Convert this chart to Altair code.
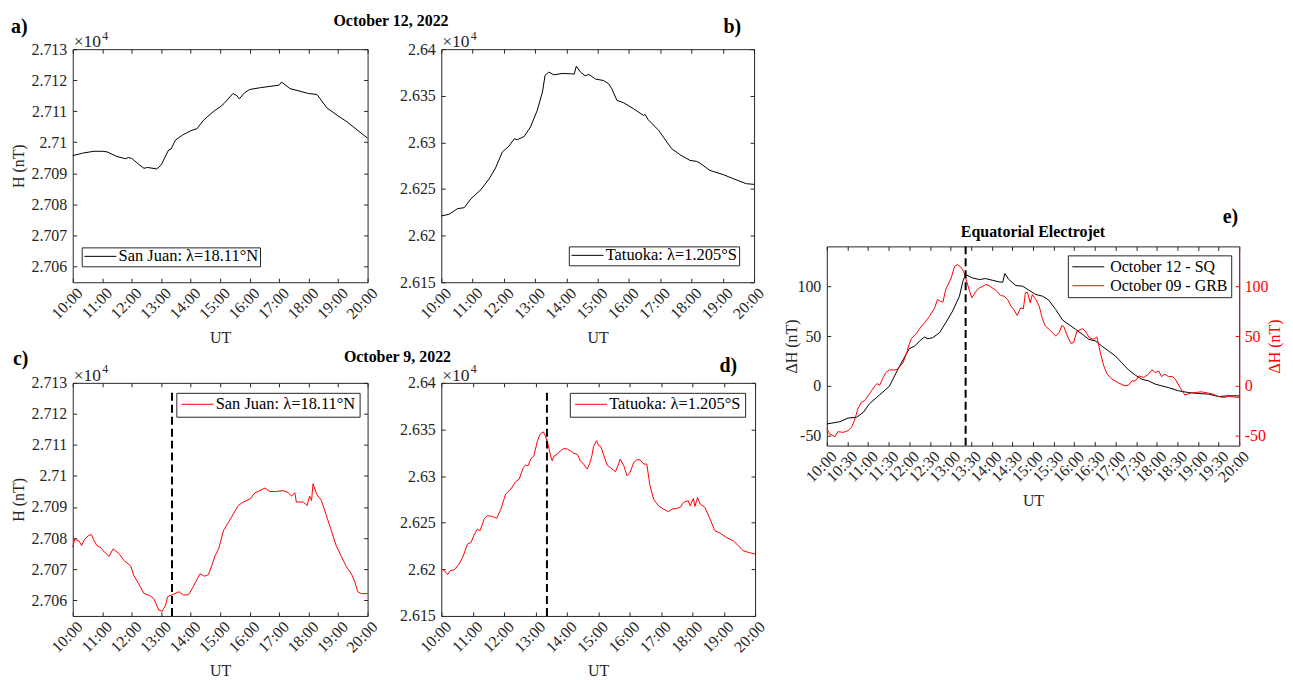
import altair as alt
import pandas as pd

FONT = "Liberation Serif"
AX = "#262626"
RED = "#FF0000"
BLACK = "#000000"
TICK = 4

# ---------------- data ----------------
# a) San Juan, October 12
a_time = ["10:00","10:20","10:43","11:00","11:10","11:30","11:48","11:53","12:00","12:12","12:25","12:32",
          "12:51","13:00","13:15","13:20","13:29","13:43","14:00","14:13","14:26","14:47","15:00","15:08",
          "15:26","15:34","15:39","15:50","16:00","16:22","17:00","17:05","17:22","18:00","18:17","18:37",
          "19:00","19:18","20:00"]
a_H = [27095.7,27096.5,27097.1,27097.1,27096.9,27095.4,27094.7,27095.1,27094.8,27093.2,27091.6,27091.9,
       27091.4,27092.7,27097.5,27097.8,27100.7,27102.3,27103.7,27104.4,27107.1,27110.0,27111.4,27112.5,
       27115.7,27115.0,27114.0,27116.0,27117.0,27117.6,27118.4,27119.4,27117.3,27115.7,27115.4,27111.1,
       27108.5,27106.6,27101.3]

# b) Tatuoka, October 12
b_time = ["10:00","10:15","10:31","10:44","10:57","11:16","11:32","11:44","11:57","12:10","12:20","12:26",
          "12:39","12:51","13:04","13:14","13:19","13:26","13:36","13:52","14:08","14:15","14:19","14:27",
          "14:36","14:43","14:56","15:11","15:21","15:27","15:37","15:50","16:09","16:28","16:31","16:37",
          "16:57","17:06","17:22","17:38","17:57","18:10","18:16","18:35","19:01","19:20","19:45","20:00"]
b_H = [26221.1,26222.9,26228.9,26230.0,26239.6,26249.3,26261.1,26272.5,26289.6,26296.1,26303.9,26302.9,
       26306.4,26316.4,26334.3,26353.9,26371.8,26375.4,26372.5,26373.9,26373.6,26373.2,26381.8,26375.4,
       26371.4,26372.9,26367.9,26366.4,26362.9,26357.5,26345.0,26342.5,26336.0,26328.9,26330.0,26324.3,
       26312.9,26305.7,26293.2,26286.8,26280.7,26279.6,26277.9,26270.0,26265.4,26261.1,26255.7,26255.0]

# c) San Juan, October 9
c_time = ["10:00","10:04","10:13","10:18","10:24","10:33","10:38","10:43","10:49","10:57","11:04","11:14",
          "11:22","11:34","11:44","11:58","12:04","12:14","12:25","12:35","12:45","12:55","13:02","13:09",
          "13:13","13:25","13:36","13:46","13:56","14:03","14:13","14:19","14:28","14:36","14:43","14:50",
          "14:57","15:07","15:17","15:27","15:37","15:47","16:01","16:11","16:21","16:31","16:41","16:55",
          "17:08","17:19","17:25","17:32","17:35","17:49","17:57","18:02","18:06","18:09","18:16","18:26",
          "18:36","18:46","18:56","19:07","19:17","19:27","19:34","19:40","19:47","20:00"]
c_H = [27077.1,27079.6,27079.0,27077.6,27079.6,27080.9,27081.1,27079.3,27077.6,27076.9,27075.5,27074.1,
       27076.5,27075.0,27072.8,27071.0,27068.0,27065.3,27062.1,27061.6,27060.5,27056.8,27056.4,27058.4,
       27061.1,27061.9,27062.7,27061.6,27061.8,27063.7,27066.7,27068.5,27067.7,27068.2,27071.2,27074.4,
       27076.6,27082.5,27085.1,27087.8,27090.5,27091.6,27092.6,27094.6,27095.3,27096.1,27095.0,27095.0,
       27095.3,27094.6,27093.5,27094.6,27091.6,27091.6,27090.5,27093.5,27092.1,27097.5,27094.2,27092.1,
       27087.3,27082.5,27077.6,27073.9,27070.7,27068.5,27065.9,27062.7,27062.1,27062.1]

# d) Tatuoka, October 9
d_time = ["10:00","10:06","10:12","10:17","10:25","10:34","10:41","10:50","10:57","11:02","11:09","11:14",
          "11:22","11:28","11:38","11:46","11:54","12:03","12:13","12:22","12:29","12:37","12:41","12:46",
          "12:51","12:57","13:04","13:09","13:15","13:19","13:24","13:29","13:32","13:35","13:42","13:48",
          "13:54","14:01","14:07","14:13","14:20","14:26","14:32","14:39","14:44","14:48","14:51","14:57",
          "15:01","15:05","15:11","15:17","15:23","15:33","15:39","15:42","15:49","15:55","16:01","16:08",
          "16:14","16:20","16:27","16:33","16:39","16:46","16:55","17:05","17:14","17:21","17:30","17:37",
          "17:43","17:52","17:56","18:02","18:05","18:10","18:15","18:24","18:34","18:43","18:53","19:05",
          "19:18","19:28","19:37","19:47","20:00"]
d_H = [26200.4,26198.6,26194.3,26198.6,26199.6,26205.7,26212.9,26227.1,26228.9,26236.1,26243.2,26241.4,
       26253.9,26257.5,26256.8,26254.6,26264.6,26280.7,26286.1,26293.9,26296.8,26309.3,26311.8,26311.1,
       26318.2,26321.8,26337.9,26345.0,26347.5,26343.2,26334.3,26321.8,26316.4,26321.1,26323.6,26327.1,
       26329.6,26328.9,26327.1,26324.6,26323.2,26316.4,26312.9,26307.5,26313.9,26321.8,26331.8,26337.9,
       26332.5,26331.8,26321.8,26311.8,26309.3,26304.6,26312.9,26318.2,26311.1,26300.4,26303.9,26314.6,
       26317.5,26317.5,26312.9,26312.9,26289.6,26275.4,26268.2,26264.6,26261.8,26264.6,26265.4,26266.4,
       26271.8,26273.6,26268.2,26276.1,26267.5,26277.1,26270.0,26266.4,26253.9,26241.4,26238.9,26234.3,
       26230.7,26225.4,26220.0,26218.2,26216.4]

# e) Equatorial electrojet, Delta H
e_time_sq = ["10:00","10:19","10:31","10:43","10:53","11:02","11:17","11:31","11:46","12:00","12:08","12:15",
             "12:22","12:27","12:34","12:44","12:53","13:03","13:13","13:18","13:22","13:32","13:42","13:51",
             "14:01","14:11","14:16","14:19","14:25","14:35","14:45","14:54","15:04","15:14","15:23","15:33",
             "15:43","15:52","16:02","16:12","16:21","16:31","16:40","16:50","17:00","17:09","17:19","17:29",
             "17:38","17:48","17:58","18:07","18:17","18:32","18:46","19:01","19:15","19:30","19:44","20:00"]
e_sq = [-38.3,-36,-32.3,-31.7,-26.7,-18,-9,-0.5,20,37.3,40,45,
        49,47.3,48.3,53.3,63.3,75,90,105,111.7,108.3,106.7,107.7,
        106,104.3,104,112.7,106.7,100.7,100,96,91.7,90,86,76.7,
        66,61.7,56.7,51.7,46.7,45,40,35,30,23.3,16,10.7,
        6.7,5,1.7,0,-1.7,-5,-6.7,-7.7,-8.3,-10.7,-10,-10]
e_time_grb = ["10:00","10:04","10:12","10:16","10:24","10:31","10:36","10:41","10:45","10:50",
              "10:55","11:00","11:05","11:10","11:13","11:17","11:22","11:26","11:31","11:39",
              "11:43","11:51","11:55","12:00","12:03","12:10","12:15","12:22","12:29","12:37",
              "12:41","12:45","12:49","12:53","13:01","13:06","13:10","13:15","13:19","13:22",
              "13:27","13:31","13:37","13:42","13:47","13:51","13:56","14:01","14:06","14:13",
              "14:18","14:23","14:28","14:32","14:37","14:42","14:46","14:49","14:52","14:56",
              "14:59","15:04","15:09","15:14","15:18","15:26","15:33","15:38","15:42","15:45",
              "15:50","15:55","15:59","16:04","16:12","16:16","16:22","16:28","16:33","16:38",
              "16:43","16:48","16:55","17:05","17:14","17:19","17:24","17:29","17:34","17:41",
              "17:48","17:53","17:58","18:03","18:07","18:12","18:17","18:23","18:27","18:34",
              "18:41","18:49","18:56","19:05","19:15","19:22","19:30","19:37","19:44","19:51","20:00"]
e_grb = [-42.7,-48.3,-51,-46,-46.7,-45,-41.7,-33.3,-23.3,-16.7,
         -15,-10,-5,0,2.3,0.7,8.3,13.3,16,16,
         16.7,23.3,30.7,41.7,47.3,52.3,57.3,63.3,69.3,78.3,
         86.7,85,84,96.7,108.3,120,121.7,119.3,115,108.3,
         96.7,88.3,95,98.3,100,101.7,100.7,98.3,96,90.7,
         90,86.7,80,76.7,70.7,78.3,77.3,93.3,94,83.3,
         91.7,86.7,80,66.7,60,55,50,53.3,60.7,59.3,
         50,42.7,43.3,55,57.3,55,48.3,46.7,49,33.3,
         20,11.7,6.7,2.7,0,0.7,5,5,10,8.3,
         11.7,16,13.3,15,9.3,11.7,9.3,9.3,6.7,-1.7,
         -9.3,-7.3,-6.7,-6,-7.3,-8.3,-10.7,-11.7,-10.7,-11,-11.7]

event_time = ["13:22"]

station_names = ["San Juan: λ=18.11°N", "Tatuoka: λ=1.205°S"]
eej_series = ["October 12 - SQ", "October 09 - GRB"]
panel_letters = ["a)", "b)", "c)", "d)", "e)"]
titles = ["October 12, 2022", "October 9, 2022", "Equatorial Electrojet"]
exponent_text = ["\u00d710", "4"]

hour_ticks = list(range(10, 21))
half_ticks = [10 + 0.5 * i for i in range(21)]
sj_ticks = [27060, 27070, 27080, 27090, 27100, 27110, 27120, 27130]
tt_ticks = [26150, 26200, 26250, 26300, 26350, 26400]
eej_ticks = [-50, 0, 50, 100]
sj_domain = [27054.9, 27130]
tt_domain = [26150, 26400]
eej_domain = [-60, 140]


def hours(ts):
    return [int(s.split(":")[0]) + int(s.split(":")[1]) / 60 for s in ts]


HOUR_EXPR = "floor(datum.value) + ':' + (datum.value % 1 > 0.25 ? '30' : '00')"
GEO_EXPR = "format(datum.value / 10000, '.4~f')"
EEJ_EXPR = "'' + datum.value"
SYM = "M-1.75,0H6.25"


def x_main(values):
    return alt.Axis(orient="bottom", values=values, labelExpr=HOUR_EXPR, labelAngle=315,
                    labelAlign="right", labelBaseline="middle", labelOffset=7, labelPadding=8,
                    labelFlush=False, labelOverlap=False, ticks=False, tickSize=0, domain=False,
                    grid=False, title="UT", titleY=60, titleBaseline="alphabetic")


def y_main(values, expr, title, title_x, h, color=AX, orient="left", pad=6, domain=False):
    kw = dict(orient=orient, values=values, labelExpr=expr, labelPadding=pad, labelColor=color,
              ticks=False, tickSize=0, grid=False, domain=domain, labelOverlap=False, labelFlush=False)
    if domain:
        kw.update(domainColor=color, domainWidth=1)
    if title:
        kw.update(title=title, titleAngle=270, titleX=title_x, titleY=h / 2,
                  titleBaseline="alphabetic", titleAlign="center", titleColor=color)
    else:
        kw.update(title=None)
    return alt.Axis(**kw)


def tick_only(orient, values, color=AX):
    return alt.Axis(orient=orient, values=values, offset=-TICK, tickSize=TICK, ticks=True,
                    tickColor=color, tickWidth=1, labels=False, domain=False, grid=False, title=None)


def label(text, x, y, size=16, weight="bold", align="left", color="black"):
    return alt.Chart(pd.DataFrame({"txt": [text]})).mark_text(
        fontSize=size, fontWeight=weight, align=align, baseline="alphabetic", color=color, font=FONT
    ).encode(x=alt.value(x), y=alt.value(y), text="txt:N")


def exponent():
    return [label(exponent_text[0], 1, -2, 17.5, "normal", "left", AX),
            label(exponent_text[1], 29.5, -9.5, 12, "normal", "left", AX)]


def legend(x, y, pad, offset=19, size=16.5, clip=15, rowpad=3):
    return alt.Legend(orient="none", legendX=x, legendY=y, title=None, padding=pad,
                      strokeColor=AX, fillColor="white", symbolType=SYM, symbolSize=64,
                      symbolStrokeWidth=1, labelOffset=offset, labelFontSize=size, cornerRadius=0,
                      rowPadding=rowpad, clipHeight=clip)


def geo_panel(times, vals, series, color, ydom, yticks, w, h, leg, ytitle, texts, event=None):
    df = pd.DataFrame({"t": hours(times), "v": vals, "s": series})
    xs = alt.Scale(domain=[10, 20], nice=False, zero=False)
    ys = alt.Scale(domain=ydom, nice=False, zero=False)
    main = alt.Chart(df).mark_line(strokeWidth=1).encode(
        x=alt.X("t:Q", scale=xs, axis=x_main(hour_ticks)),
        y=alt.Y("v:Q", scale=ys, axis=y_main(yticks, GEO_EXPR, ytitle, -49, h)),
        color=alt.Color("s:N", scale=alt.Scale(domain=[series], range=[color]), legend=leg),
    )
    t1 = alt.Chart(df).mark_line(strokeOpacity=0).encode(
        x=alt.X("t:Q", scale=xs, axis=tick_only("bottom", hour_ticks)),
        y=alt.Y("v:Q", scale=ys, axis=tick_only("left", yticks)),
    )
    t2 = alt.Chart(df).mark_line(strokeOpacity=0).encode(
        x=alt.X("t:Q", scale=xs, axis=tick_only("top", hour_ticks)),
        y=alt.Y("v:Q", scale=ys, axis=tick_only("right", yticks)),
    )
    layers = [main, t1, t2]
    if event:
        rule = alt.Chart(pd.DataFrame({"t": hours(event)})).mark_rule(
            color="black", strokeWidth=2, strokeDash=[8, 4]
        ).encode(x=alt.X("t:Q", scale=xs, axis=None), y=alt.value(10), y2=alt.value(h))
        layers.append(rule)
    layers += texts
    return alt.layer(*layers).resolve_axis(x="independent", y="independent").properties(width=w, height=h)


H4 = 234
pa = geo_panel(a_time, a_H, station_names[0], BLACK, sj_domain, sj_ticks, 296, H4,
               legend(9, 199, 1.5), "H (nT)",
               [label(titles[0], 319.5, -23, 16, "bold", "center"),
                label(panel_letters[0], -62, -16, 20, "bold", "left")] + exponent())
pb = geo_panel(b_time, b_H, station_names[1], BLACK, tt_domain, tt_ticks, 314, H4,
               legend(128, 198, 1.5), None,
               [label(panel_letters[1], 301, -16, 20, "bold", "right")] + exponent())
pc = geo_panel(c_time, c_H, station_names[0], RED, sj_domain, sj_ticks, 296, H4,
               legend(104, 10, 4), "H (nT)",
               [label(titles[1], 326, -21, 16, "bold", "center"),
                label(panel_letters[2], -60, -18, 20, "bold", "left")] + exponent(), event_time)
pd_ = geo_panel(d_time, d_H, station_names[1], RED, tt_domain, tt_ticks, 315, H4,
                legend(129, 10, 4), None,
                [label(panel_letters[3], 297, -11, 20, "bold", "right")] + exponent(), event_time)

# ---- panel e ----
EW, EH = 414, 200
df_e = pd.DataFrame({
    "t": hours(e_time_sq) + hours(e_time_grb),
    "v": e_sq + e_grb,
    "s": [eej_series[0]] * len(e_sq) + [eej_series[1]] * len(e_grb),
})
xs_e = alt.Scale(domain=[10, 20], nice=False, zero=False)
ys_e = alt.Scale(domain=eej_domain, nice=False, zero=False)
e_main = alt.Chart(df_e).mark_line(strokeWidth=1).encode(
    x=alt.X("t:Q", scale=xs_e, axis=x_main(half_ticks)),
    y=alt.Y("v:Q", scale=ys_e, axis=y_main(eej_ticks, EEJ_EXPR, "\u0394H (nT)", -30, EH)),
    color=alt.Color("s:N", scale=alt.Scale(domain=eej_series, range=[BLACK, RED]),
                    legend=legend(242, 9, 3.5, offset=23, size=16, clip=16, rowpad=3)),
)
e_t1 = alt.Chart(df_e).mark_line(strokeOpacity=0).encode(
    x=alt.X("t:Q", scale=xs_e, axis=tick_only("bottom", half_ticks)),
    y=alt.Y("v:Q", scale=ys_e, axis=tick_only("left", eej_ticks)),
)
e_t2 = alt.Chart(df_e).mark_line(strokeOpacity=0).encode(
    x=alt.X("t:Q", scale=xs_e, axis=tick_only("top", half_ticks)),
    y=alt.Y("v:Q", scale=ys_e, axis=y_main(eej_ticks, EEJ_EXPR, "\u0394H (nT)", 40, EH,
                                           color=RED, orient="right", pad=5, domain=True)),
)
e_t3 = alt.Chart(df_e).mark_line(strokeOpacity=0).encode(
    x=alt.X("t:Q", scale=xs_e, axis=None),
    y=alt.Y("v:Q", scale=ys_e, axis=tick_only("right", eej_ticks, RED)),
)
e_rule = alt.Chart(pd.DataFrame({"t": hours(event_time)})).mark_rule(
    color="black", strokeWidth=2, strokeDash=[8, 4]
).encode(x=alt.X("t:Q", scale=xs_e, axis=None), y=alt.value(0), y2=alt.value(EH))
pe = alt.layer(
    e_main, e_t1, e_t2, e_t3, e_rule,
    label(panel_letters[4], 413, -23, 20, "bold", "right"),
    label(titles[2], 207, -9, 16, "bold", "center"),
).resolve_axis(x="independent", y="independent").properties(width=EW, height=EH)

spacer = alt.Chart(pd.DataFrame({"s": [""]})).mark_text().encode(text="s:N").properties(
    width=EW, height=198, view=alt.ViewBackground(stroke="transparent"))

left = alt.concat(pa, pb, pc, pd_, columns=2, spacing={"row": 101, "column": 74},
                  bounds="flush").resolve_scale(color="independent")
right = alt.vconcat(spacer, pe, spacing=0, bounds="flush").resolve_scale(color="independent")

chart = alt.hconcat(left, right, spacing=14, bounds="full").resolve_scale(
    color="independent"
).properties(
    padding={"left": 2, "top": 3, "right": 2, "bottom": 2}
).configure_view(
    stroke=AX, strokeWidth=1
).configure_axis(
    labelFont=FONT, labelFontSize=16, labelColor=AX, titleFont=FONT, titleFontSize=16,
    titleColor=AX, titleFontWeight="normal"
).configure_legend(
    labelFont=FONT, labelColor="black"
).configure_text(font=FONT)

chart.save("out.html", embed_options={"renderer": "svg", "actions": False})
